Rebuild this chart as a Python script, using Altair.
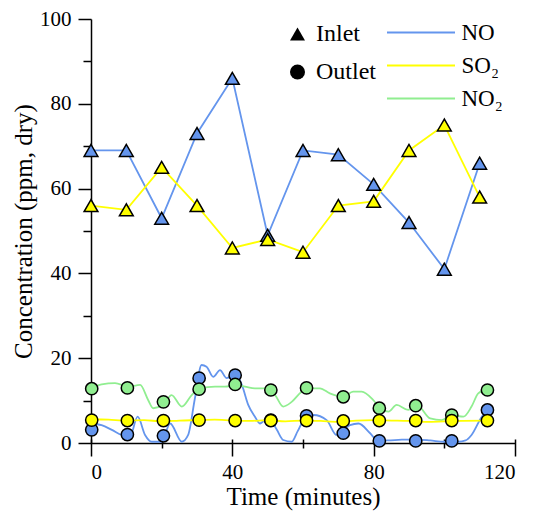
import altair as alt
import pandas as pd

FONT = "Liberation Serif"

species = ["NO", "SO₂", "NO₂"]
colors = ["#6495ED", "#FFFF00", "#90EE90"]
locations = ["Inlet", "Outlet"]
shapes = ["triangle-up", "circle"]

# Inlet (triangles)
inlet_time = [0, 10, 20, 30, 40, 50, 60, 70, 80, 90, 100, 110]
inlet_no = [69, 69, 53, 73, 86, 49, 69, 68, 61, 52, 41, 66]
inlet_so2 = [56, 55, 65, 56, 46, 48, 45, 56, 57, 69, 75, 58]

# Outlet (circles)
outlet_time = [0.2, 10.3, 20.5, 30.6, 40.8, 50.9, 61.0, 71.4, 81.6, 91.9, 102.1, 112.2]
outlet_no = [3.1, 2.0, 1.7, 15.3, 16.0, 5.4, 6.4, 2.3, 0.5, 0.5, 0.5, 7.8]
outlet_so2 = [5.4, 5.3, 5.3, 5.4, 5.3, 5.3, 5.3, 5.2, 5.3, 5.3, 5.3, 5.3]
outlet_no2 = [12.8, 13.0, 9.7, 12.7, 13.8, 12.5, 13.0, 10.9, 8.2, 8.8, 6.6, 12.5]

# Outlet continuous traces
trace_no_t = [0, 3, 5.9, 8.7, 11, 13.2, 15.3, 17.2, 20, 22.4, 25.7, 27.5, 29.4, 31.3, 32.7,
              34.6, 36.5, 38.4, 40.8, 42.7, 44.5, 46.4, 47.8, 50.2, 52.6, 54.4, 56.8, 58.5,
              60.5, 63, 66.7, 69.5, 73.3, 75.7, 79, 81, 84, 88, 92, 96, 100, 104, 106,
              107.7, 110.6, 112.2]
trace_no_v = [4.6, 4.2, 3.1, 1.9, 1.5, 6.2, 1.9, 0.3, 0.3, 4.6, 0.3, 1.9, 10.5, 18.4, 18.0,
              15.6, 17.2, 15.3, 16.4, 13.7, 9.0, 6.2, 4.6, 6.2, 3.1, 0.7, 0.3, 2.8,
              5.8, 6.6, 5.4, 1.9, 4.2, 4.6, 2.3, 0.7, 0.6, 0.8, 0.8, 0.6, 0.3, 0.3, 0.6,
              1.9, 6.2, 7.8]
trace_no2_t = [0, 3, 6.8, 10.6, 13.9, 16.2, 17.6, 20.5, 22.8, 25.7, 28.5, 30.9, 35.1, 37.9,
               40.8, 43.6, 46.4, 49.2, 52.1, 54.4, 56.8, 59.6, 61.5, 64.8, 67.6, 71.4, 74.2,
               76.6, 79.9, 81.8, 84.2, 86.5, 89.8, 92.2, 96, 99.3, 102.1, 105.4, 107.7,
               109.6, 112.2]
trace_no2_v = [12.9, 13.8, 14.1, 13.3, 13.7, 10.1, 8.2, 9.0, 11.3, 8.6, 11.3, 12.9, 13.3, 13.3,
               13.7, 13.3, 12.9, 12.9, 11.3, 8.6, 9.7, 12.1, 12.9, 12.9, 11.7, 10.9, 12.1,
               12.1, 10.1, 8.2, 7.4, 9.0, 7.8, 9.0, 5.8, 5.4, 6.6, 6.2, 8.6,
               11.7, 12.7]
trace_so2_t = [0, 5, 10, 15, 20, 25, 30, 35, 40, 45, 50, 55, 60, 65, 70, 75, 80, 85, 90,
               95, 100, 105, 112.2]
trace_so2_v = [5.6, 5.5, 5.3, 5.4, 5.1, 5.3, 5.4, 5.5, 5.3, 5.2, 5.4, 5.1, 5.3, 5.2, 5.0,
               5.3, 5.4, 5.3, 5.2, 5.0, 5.1, 5.2, 5.3]

# ---- tables ----
def frame(t, v, sp, loc, order):
    return pd.DataFrame({"time": t, "value": v, "species": sp, "location": loc, "ord": order})

inlet_df = pd.concat([
    frame(inlet_time, inlet_no, "NO", "Inlet", 1),
    frame(inlet_time, inlet_so2, "SO₂", "Inlet", 2),
])
outlet_df = pd.concat([
    frame(outlet_time, outlet_no, "NO", "Outlet", 1),
    frame(outlet_time, outlet_no2, "NO₂", "Outlet", 2),
    frame(outlet_time, outlet_so2, "SO₂", "Outlet", 3),
])
trace_df = pd.concat([
    frame(trace_no_t, trace_no_v, "NO", "Outlet", 1),
    frame(trace_no2_t, trace_no2_v, "NO₂", "Outlet", 2),
    frame(trace_so2_t, trace_so2_v, "SO₂", "Outlet", 3),
])

xs = alt.Scale(domain=[0, 120], nice=False, zero=False)
ys = alt.Scale(domain=[0, 100], nice=False)
color_scale = alt.Scale(domain=species, range=colors)
shape_scale = alt.Scale(domain=locations, range=shapes)

common = dict(labelFont=FONT, titleFont=FONT, labelColor="black", titleColor="black",
              tickColor="black", domainColor="black", tickWidth=1.5, domainWidth=1.5,
              grid=False)

x_major = alt.Axis(values=[0, 40, 80, 120], orient="bottom", offset=-4, tickSize=17,
                   domain=False, labelFontSize=21, labelPadding=5, format="d",
                   title="Time (minutes)", titleFontSize=25, titleFontWeight="normal",
                   titlePadding=2, **common)
y_major = alt.Axis(values=[0, 20, 40, 60, 80, 100], orient="left", tickSize=13,
                   domain=True, labelFontSize=21, labelPadding=7, format="d",
                   title="Concentration (ppm, dry)", titleFontSize=25,
                   titleFontWeight="normal", titlePadding=3, **common)
x_minor = alt.Axis(values=[20, 60, 100], orient="bottom", offset=-4, tickSize=9,
                   domain=False, labels=False, title=None, **common)
y_minor = alt.Axis(values=[10, 30, 50, 70, 90], orient="left", tickSize=8,
                   domain=False, labels=False, title=None, **common)
x_dom = alt.Axis(orient="bottom", ticks=False, labels=False, domain=True, title=None,
                 **common)

color_legend = alt.Legend(orient="none", legendX=318.5, legendY=2, title=None,
                          symbolType="M-5,0H5", symbolSize=185, symbolStrokeWidth=2,
                          labelFont=FONT, labelFontSize=23, labelColor="black",
                          labelOffset=29, rowPadding=9, padding=0)
shape_legend = alt.Legend(orient="none", legendX=194.5, legendY=3, title=None,
                          symbolSize=225, symbolFillColor="black",
                          symbolStrokeColor="black", symbolStrokeWidth=0,
                          labelFont=FONT, labelFontSize=24, labelColor="black",
                          labelOffset=6.5, rowPadding=14, padding=0)

inlet_lines = alt.Chart(inlet_df).mark_line(strokeWidth=1.8).encode(
    x=alt.X("time:Q", scale=xs, axis=x_major),
    y=alt.Y("value:Q", scale=ys, axis=y_major),
    color=alt.Color("species:N", scale=color_scale, legend=color_legend),
)

outlet_lines = alt.Chart(trace_df).mark_line(strokeWidth=1.8, interpolate="monotone").encode(
    x=alt.X("time:Q", scale=xs, axis=x_minor),
    y=alt.Y("value:Q", scale=ys, axis=y_minor),
    color=alt.Color("species:N", scale=color_scale, legend=color_legend),
)

inlet_pts = alt.Chart(inlet_df).mark_point(
    filled=True, size=190, stroke="black", strokeWidth=1.5, opacity=1
).encode(
    x=alt.X("time:Q", scale=xs, axis=x_dom),
    y=alt.Y("value:Q", scale=ys, axis=None),
    fill=alt.Fill("species:N", scale=color_scale, legend=None),
    shape=alt.Shape("location:N", scale=shape_scale, legend=shape_legend),
    order=alt.Order("ord:Q"),
)

outlet_pts = alt.Chart(outlet_df).mark_point(
    filled=True, size=150, stroke="black", strokeWidth=1.5, opacity=1
).encode(
    x=alt.X("time:Q", scale=xs, axis=None),
    y=alt.Y("value:Q", scale=ys, axis=None),
    fill=alt.Fill("species:N", scale=color_scale, legend=None),
    shape=alt.Shape("location:N", scale=shape_scale, legend=shape_legend),
    order=alt.Order("ord:Q"),
)

chart = alt.layer(inlet_lines, outlet_lines, inlet_pts, outlet_pts).resolve_scale(
    x="independent", y="independent"
).properties(
    width=424, height=424,
    autosize=alt.AutoSizeParams(type="none"),
    padding={"left": 83, "top": 11, "right": 8, "bottom": 70},
).configure_view(stroke=None)

chart.save("out.html", embed_options={"renderer": "svg", "actions": False})
